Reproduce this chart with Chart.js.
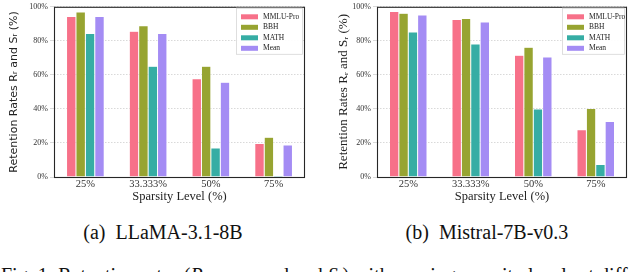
<!DOCTYPE html>
<html>
<head>
<meta charset="utf-8">
<script src="https://cdn.jsdelivr.net/npm/chart.js@4.4.0/dist/chart.umd.min.js"></script>
<style>
  html, body { margin: 0; padding: 0; background: #fff; }
  #wrap { position: relative; width: 640px; height: 272px; overflow: hidden; background: #fff; }
  .pane { position: absolute; top: 0; width: 320px; height: 204px; }
  .cap { position: absolute; font-family: "Liberation Serif", serif; font-size: 20px; line-height: 20px; color: #111; white-space: nowrap; }
</style>
</head>
<body>
<div id="wrap">
  <div class="pane" style="left:0"><canvas id="c1" width="320" height="204"></canvas></div>
  <div class="pane" style="left:320px"><canvas id="c2" width="320" height="204"></canvas></div>
  <div class="cap" id="capA" style="top:222px; left:163px; transform:translateX(-50%)">(a)&nbsp; LLaMA-3.1-8B</div>
  <div class="cap" id="capB" style="top:222px; left:487px; transform:translateX(-50%)">(b)&nbsp; Mistral-7B-v0.3</div>
  <div class="cap" style="top:265px; left:1px">Fig. 1: Retention rates (<i>R<sub style="font-size:12px">r</sub></i> measured and <i>S<sub style="font-size:12px">r</sub></i>) with varying sparsity levels at different</div>
</div>
<script>
// ---- data ----
const sparsityLevels = ["25%", "33.333%", "50%", "75%"];
const seriesNames = ["MMLU-Pro", "BBH", "MATH", "Mean"];
const yTicks = [0, 20, 40, 60, 80, 100];

const llamaMMLUPro = [94.3, 85.6, 57.7, 19.7];
const llamaBBH     = [96.9, 88.9, 65.1, 23.4];
const llamaMATH    = [84.3, 65.1, 17.0, 0.8];
const llamaMean    = [94.3, 84.3, 55.6, 18.8];

const mistralMMLUPro = [97.3, 92.5, 71.5, 27.8];
const mistralBBH     = [96.2, 93.1, 76.2, 40.2];
const mistralMATH    = [85.2, 78.2, 40.0, 7.3];
const mistralMean    = [95.2, 91.0, 70.5, 32.6];

const palette = ["#f77189", "#97a431", "#36ada4", "#a48cf4"];

// ---- plugins ----
const boxPlugin = {
  id: 'boxPlugin',
  afterDraw(chart) {
    const a = chart.chartArea, ctx = chart.ctx;
    ctx.save();
    ctx.strokeStyle = '#262626';
    ctx.lineWidth = 1.1;
    ctx.strokeRect(a.left + 0.5, a.top + 0.5, a.right - a.left - 1, a.bottom - a.top);
    // legend
    const opt = chart.options.plugins.boxPlugin;
    const ds = chart.data.datasets;
    const bw = opt.legendWidth, bh = 46;
    const bx = a.right - bw - 3, by = a.top + 1;
    ctx.fillStyle = 'rgba(255,255,255,0.95)';
    ctx.fillRect(bx, by, bw, bh);
    ctx.strokeStyle = '#d6d6d6';
    ctx.lineWidth = 0.8;
    ctx.strokeRect(bx + 0.5, by + 0.5, bw, bh);
    ctx.font = '7.5px "Liberation Serif", serif';
    ctx.textBaseline = 'middle';
    ds.forEach((d, i) => {
      const yy = by + 9 + i * 10.5;
      ctx.fillStyle = d.backgroundColor;
      ctx.fillRect(bx + 5, yy - 2.5, 17, 5);
      ctx.fillStyle = '#222';
      ctx.fillText(d.label, bx + 27, yy);
    });
    ctx.restore();
  }
};

function makeChart(id, series, opts) {
  const datasets = series.map((vals, i) => ({
    label: seriesNames[i],
    data: vals,
    backgroundColor: palette[i],
    borderColor: '#ffffff',
    borderWidth: 0.5,
    categoryPercentage: 0.6,
    barPercentage: 1.0
  }));
  return new Chart(document.getElementById(id), {
    type: 'bar',
    data: { labels: sparsityLevels, datasets },
    plugins: [boxPlugin],
    options: {
      responsive: false,
      animation: false,
      devicePixelRatio: 1,
      layout: { padding: { left: 0, right: opts.rightPad, top: 3, bottom: 0 } },
      plugins: {
        legend: { display: false },
        tooltip: { enabled: false },
        boxPlugin: { legendWidth: opts.legendWidth }
      },
      scales: {
        x: {
          offset: true,
          grid: { display: false, drawTicks: false, tickLength: 0 },
          border: { display: false },
          ticks: { color: '#333', padding: 1, font: { family: '"Liberation Serif", serif', size: 10.5 } },
          title: { display: true, text: 'Sparsity Level (%)', color: '#222', padding: 0,
                   font: { family: '"Liberation Serif", serif', size: 12.5 } },
          afterFit(s) { s.height = 27; }
        },
        y: {
          min: 0, max: 100,
          afterBuildTicks(s) { s.ticks = yTicks.map(v => ({ value: v })); },
          grid: { color: '#cfcfcf', lineWidth: 0.8, tickLength: 4, drawTicks: true },
          border: { display: false, dash: [1.5, 1.5] },
          ticks: { color: '#333', padding: 2, callback: v => v + '%',
                   font: { family: '"Liberation Serif", serif', size: 8 } },
          title: { display: true, text: 'Retention Rates R\u1d63 and S\u1d63 (%)', color: '#222',
                   padding: { top: opts.titlePad, bottom: 0 },
                   font: { family: opts.titleFont, size: opts.titleSize } },
          afterFit(s) { s.width = opts.yWidth; }
        }
      }
    }
  });
}

makeChart('c1', [llamaMMLUPro, llamaBBH, llamaMATH, llamaMean],
  { rightPad: 15, yWidth: 54, legendWidth: 66,
    titleFont: '"DejaVu Sans", sans-serif', titleSize: 11, titlePad: 8 });
makeChart('c2', [mistralMMLUPro, mistralBBH, mistralMATH, mistralMean],
  { rightPad: 13, yWidth: 57, legendWidth: 62,
    titleFont: '"Liberation Serif", serif', titleSize: 13, titlePad: 16 });
</script>
</body>
</html>
